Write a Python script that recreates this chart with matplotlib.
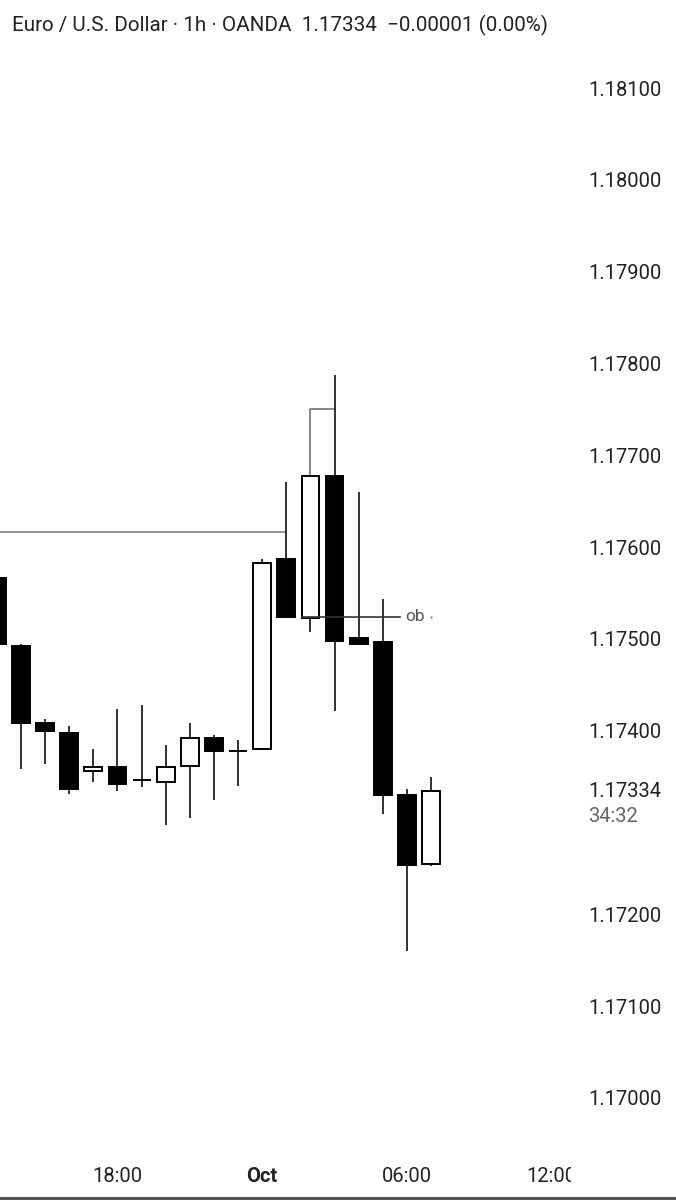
import numpy as np
import matplotlib
matplotlib.use('Agg')
import matplotlib.pyplot as plt
import matplotlib.transforms as mtransforms

plt.rcParams['font.family'] = ['Roboto', 'DejaVu Sans']

# 1h candles, EURUSD (OANDA), index 0 is the partly hidden one on the left
idx = np.arange(19)
opens = [1.17566, 1.17492, 1.17409, 1.17398, 1.17356, 1.17361, 1.17346, 1.17344, 1.17362, 1.17392,
         1.17378, 1.17380, 1.17587, 1.17523, 1.17677, 1.17501, 1.17497, 1.17330, 1.17255]
highs = [1.17580, 1.17495, 1.17413, 1.17405, 1.17380, 1.17424, 1.17428, 1.17385, 1.17409, 1.17395,
         1.17390, 1.17587, 1.17671, 1.17678, 1.17788, 1.17660, 1.17543, 1.17337, 1.17350]
lows = [1.17490, 1.17358, 1.17364, 1.17331, 1.17344, 1.17334, 1.17339, 1.17297, 1.17305, 1.17325,
        1.17340, 1.17380, 1.17523, 1.17508, 1.17421, 1.17495, 1.17309, 1.17160, 1.17253]
closes = [1.17495, 1.17409, 1.17400, 1.17337, 1.17361, 1.17342, 1.17346, 1.17360, 1.17392, 1.17378,
          1.17378, 1.17583, 1.17524, 1.17678, 1.17498, 1.17495, 1.17330, 1.17254, 1.17334]

last_price = 1.17334
countdown = '34:32'
price_ticks = [1.170, 1.171, 1.172, 1.174, 1.175, 1.176, 1.177, 1.178, 1.179, 1.180, 1.181]
time_ticks = [5, 11, 17, 23]
time_labels = ['18:00', 'Oct', '06:00', '12:00']

# drawings on the chart
hline_level = 1.17616      # line from the left up to candle 12
ob_level = 1.17524         # "ob" line
bracket_level = 1.17750

fig = plt.figure(figsize=(6.76, 12), dpi=100)
W, H = 676, 1200
ax_left, ax_right = 0, 575
ax_top, ax_bottom = 50, 1140
ax = fig.add_axes([ax_left / W, 1 - ax_bottom / H, (ax_right - ax_left) / W, (ax_bottom - ax_top) / H])
ax.set_xlim(0.129, 23.97)
ax.set_ylim(1.169542, 1.181416)
for s in ax.spines.values():
    s.set_visible(False)
ax.set_xticks([])

body_w = 0.74
for i, o, h, l, c in zip(idx, opens, highs, lows, closes):
    top, bot = max(o, c), min(o, c)
    ax.plot([i, i], [top, h], color='#222222', lw=1.3, zorder=2, solid_capstyle='butt')
    ax.plot([i, i], [l, bot], color='#222222', lw=1.3, zorder=2, solid_capstyle='butt')
    fc = 'white' if c >= o else 'black'
    height = max(top - bot, 0.000004)
    ax.add_patch(plt.Rectangle((i - body_w / 2, bot), body_w, height, facecolor=fc,
                               edgecolor='black', lw=1.4, zorder=3))

# drawn lines
ax.plot([0, 12], [hline_level, hline_level], color='#777777', lw=1.1, zorder=1)
ax.plot([13, 13, 14], [closes[13], bracket_level, bracket_level], color='#666666', lw=1.1, zorder=1)
ax.plot([12.65, 16.7], [ob_level, ob_level], color='#333333', lw=1.2, zorder=4)
ax.text(16.95, ob_level, 'ob', fontsize=12.5, color='#555555', va='center', ha='left')
ax.plot([18.0], [ob_level], marker='.', ms=1.5, color='#999999')

# price scale
ax.yaxis.tick_right()
ax.set_yticks(price_ticks)
ax.set_yticklabels([f'{p:.5f}' for p in price_ticks])
ax.tick_params(axis='y', length=0, pad=9.4, labelsize=14.5, labelcolor='#222222')
tr = mtransforms.blended_transform_factory(fig.transFigure, ax.transData)
fig.text(588 / W, last_price, f'{last_price:.5f}', transform=tr, fontsize=14.5, color='#222222',
         va='center', ha='left')
off = mtransforms.offset_copy(tr, fig=fig, y=-25, units='dots')
fig.text(588 / W, last_price, countdown, transform=off, fontsize=14.5, color='#666666', va='center', ha='left')

# time axis (clipped at the plot edge like the original)
tax = fig.add_axes([0, 1 - 1195 / H, 571 / W, 45 / H])
tax.set_xlim(0.129, 0.129 + (23.97 - 0.129) * 571 / 575)
tax.set_ylim(0, 1)
tax.axis('off')
for t, lab in zip(time_ticks, time_labels):
    tax.text(t, 0.42, lab, ha='center', va='center', fontsize=14.5, color='#222222',
             fontweight='bold' if lab == 'Oct' else 'normal', clip_on=True)

fig.add_artist(plt.Line2D([0, 1], [1 - 1197.5 / H, 1 - 1197.5 / H], color='#555555', lw=2.2))

fig.text(12 / W, 1 - 25 / H, 'Euro / U.S. Dollar · 1h · OANDA  1.17334  −0.00001 (0.00%)',
         fontsize=14.9, color='#222222', va='center', ha='left')

fig.savefig('out.png', dpi=100)
